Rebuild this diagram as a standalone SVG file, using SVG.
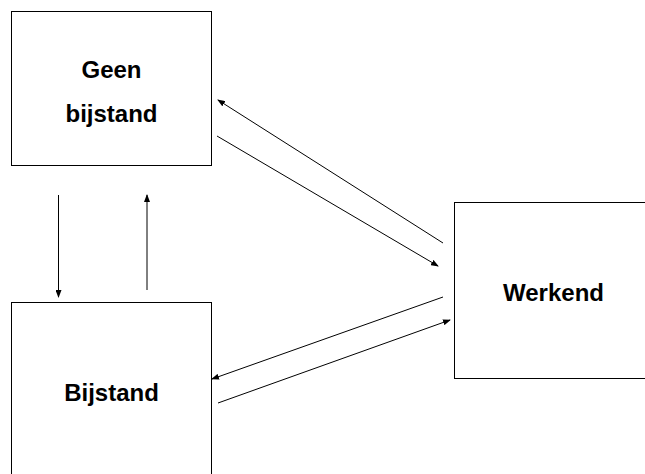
<svg xmlns="http://www.w3.org/2000/svg" width="645" height="474" viewBox="0 0 645 474">
<style>
.box{fill:#fff;stroke:#000;stroke-width:1}
.lbl{font-family:"Liberation Sans",Arial,sans-serif;font-weight:bold;font-size:24px;fill:#000;text-anchor:middle}
.con{stroke:#000;stroke-width:1;fill:none;marker-end:url(#ah)}
</style>
<defs>
<marker id="ah" markerWidth="8" markerHeight="6" refX="7" refY="3" orient="auto" markerUnits="userSpaceOnUse">
<path d="M0,0 L8,3 L0,6 Z" fill="#000"/>
</marker>
</defs>
<rect width="645" height="474" fill="#fff"/>
<g id="geen-bijstand">
<rect class="box" x="11.5" y="11.5" width="200" height="154"/>
<text class="lbl" x="111.5" y="77.5">Geen</text>
<text class="lbl" x="111.5" y="121.5">bijstand</text>
</g>
<g id="bijstand">
<rect class="box" x="11.5" y="302.5" width="200" height="180"/>
<text class="lbl" x="111.5" y="401">Bijstand</text>
</g>
<g id="werkend">
<rect class="box" x="454.5" y="202.5" width="200" height="176"/>
<text class="lbl" x="553.5" y="301">Werkend</text>
</g>
<g id="connectors">
<line class="con" x1="58.5" y1="195" x2="58.5" y2="297"/>
<line class="con" x1="147" y1="290" x2="147" y2="195"/>
<line class="con" x1="443" y1="243" x2="218" y2="100"/>
<line class="con" x1="217" y1="136" x2="438" y2="266"/>
<line class="con" x1="443" y1="297" x2="212" y2="379"/>
<line class="con" x1="218" y1="403" x2="450" y2="320"/>
</g>
</svg>
